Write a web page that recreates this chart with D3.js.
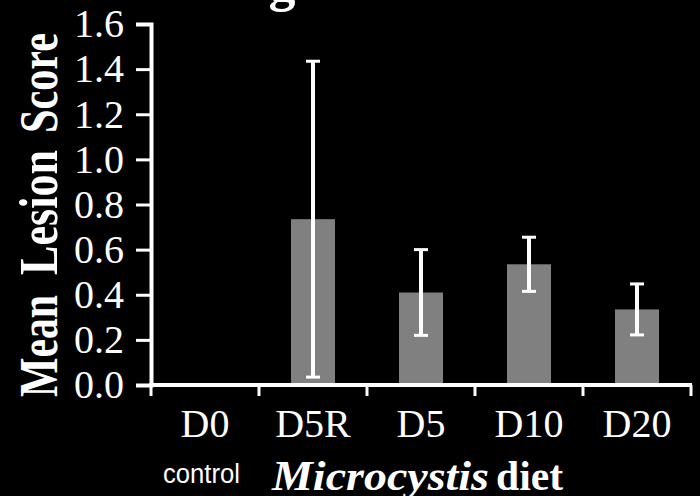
<!DOCTYPE html>
<html>
<head>
<meta charset="utf-8">
<script src="https://cdn.jsdelivr.net/npm/d3@7"></script>
<style>
  html, body { margin: 0; padding: 0; background: #000; }
  svg { display: block; }
  text { fill: #fff; }
</style>
</head>
<body>
<div id="chart"></div>
<script>
// data
var diets = ["D0", "D5R", "D5", "D10", "D20"];
var meanScore = [0, 0.735, 0.41, 0.535, 0.335];
var stdErr = [0, 0.70, 0.19, 0.12, 0.113];
var yTicks = [0, 0.2, 0.4, 0.6, 0.8, 1.0, 1.2, 1.4, 1.6];
var yTitleWords = ["Mean", "Lesion", "Score"];

var width = 700, height = 496;
var margin = {top: 24, right: 9, bottom: 111, left: 151};
var serif = "'Liberation Serif', 'Times New Roman', serif";

var svg = d3.select("#chart").append("svg")
    .attr("width", width)
    .attr("height", height)
    .style("background", "#000");

var x = d3.scaleBand().domain(diets).range([margin.left, width - margin.right]).padding(0);
var y = d3.scaleLinear().domain([0, 1.6]).range([height - margin.bottom, margin.top]);
var barW = 44;

// bars
svg.append("g").selectAll("rect")
    .data(diets)
    .enter().append("rect")
    .attr("x", function(d) { return x(d) + x.bandwidth() / 2 - barW / 2; })
    .attr("y", function(d, i) { return y(meanScore[i]); })
    .attr("width", barW)
    .attr("height", function(d, i) { return y(0) - y(meanScore[i]); })
    .attr("fill", "#808080");

// error bars
var err = svg.append("g").selectAll("g")
    .data(diets.filter(function(d, i) { return stdErr[i] > 0; }))
    .enter().append("g")
    .attr("stroke", "#fff");
err.append("line")
    .attr("x1", function(d) { return x(d) + x.bandwidth() / 2; })
    .attr("x2", function(d) { return x(d) + x.bandwidth() / 2; })
    .attr("y1", function(d) { var i = diets.indexOf(d); return y(meanScore[i] + stdErr[i]); })
    .attr("y2", function(d) { var i = diets.indexOf(d); return y(meanScore[i] - stdErr[i]); })
    .attr("stroke-width", 4);
[1, -1].forEach(function(s) {
  err.append("line")
      .attr("x1", function(d) { return x(d) + x.bandwidth() / 2 - 7; })
      .attr("x2", function(d) { return x(d) + x.bandwidth() / 2 + 7; })
      .attr("y1", function(d) { var i = diets.indexOf(d); return y(meanScore[i] + s * stdErr[i]); })
      .attr("y2", function(d) { var i = diets.indexOf(d); return y(meanScore[i] + s * stdErr[i]); })
      .attr("stroke-width", 3);
});

// y axis
var yAxis = svg.append("g")
    .attr("transform", "translate(" + margin.left + ",0)")
    .call(d3.axisLeft(y).tickValues(yTicks).tickFormat(d3.format(".1f")).tickSize(15).tickPadding(12));
yAxis.select(".domain").attr("stroke", "#fff").attr("stroke-width", 4);
yAxis.selectAll(".tick line").attr("stroke", "#fff").attr("stroke-width", 3);
yAxis.selectAll(".tick text")
    .attr("fill", "#fff")
    .attr("font-family", serif)
    .attr("font-size", 40);

// x axis: line, boundary ticks, category labels
var xAxis = svg.append("g").attr("transform", "translate(0," + y(0) + ")");
xAxis.append("line")
    .attr("x1", margin.left - 2).attr("x2", width - margin.right + 1)
    .attr("stroke", "#fff").attr("stroke-width", 4);
var bounds = diets.map(function(d) { return x(d); }).concat([x.range()[1]]);
xAxis.selectAll(".bt")
    .data(bounds)
    .enter().append("line")
    .attr("x1", function(d) { return d; }).attr("x2", function(d) { return d; })
    .attr("y1", 0).attr("y2", 11)
    .attr("stroke", "#fff").attr("stroke-width", 3);
xAxis.selectAll(".lab")
    .data(diets)
    .enter().append("text")
    .attr("x", function(d) { return x(d) + x.bandwidth() / 2; })
    .attr("y", 52)
    .attr("text-anchor", "middle")
    .attr("font-family", serif)
    .attr("font-size", 40)
    .text(function(d) { return d; });

// y title, one word at a time
var wordSpan = [[295, 397], [150, 275], [33, 133]];
yTitleWords.forEach(function(w, i) {
  var c = (wordSpan[i][0] + wordSpan[i][1]) / 2;
  svg.append("text")
      .attr("transform", "translate(57," + c + ") rotate(-90)")
      .attr("text-anchor", "middle")
      .attr("font-family", serif)
      .attr("font-weight", "bold")
      .attr("font-size", 54)
      .attr("textLength", wordSpan[i][1] - wordSpan[i][0])
      .attr("lengthAdjust", "spacingAndGlyphs")
      .text(w);
});

// x title
svg.append("text")
    .attr("x", 163).attr("y", 483)
    .attr("font-family", "'Liberation Sans', Arial, sans-serif")
    .attr("font-size", 27)
    .attr("textLength", 77)
    .attr("lengthAdjust", "spacingAndGlyphs")
    .text("control");
svg.append("text")
    .attr("x", 272).attr("y", 490)
    .attr("font-family", serif)
    .attr("font-weight", "bold")
    .attr("font-style", "italic")
    .attr("font-size", 42)
    .attr("textLength", 217)
    .attr("lengthAdjust", "spacingAndGlyphs")
    .text("Microcystis");
svg.append("text")
    .attr("x", 496).attr("y", 490)
    .attr("font-family", serif)
    .attr("font-weight", "bold")
    .attr("font-size", 42)
    .attr("textLength", 67)
    .attr("lengthAdjust", "spacingAndGlyphs")
    .text("diet");

// clipped title above the frame
svg.append("text")
    .attr("x", 282).attr("y", 0)
    .attr("text-anchor", "middle")
    .attr("font-family", serif)
    .attr("font-weight", "bold")
    .attr("font-size", 54)
    .text("g");
</script>
</body>
</html>
